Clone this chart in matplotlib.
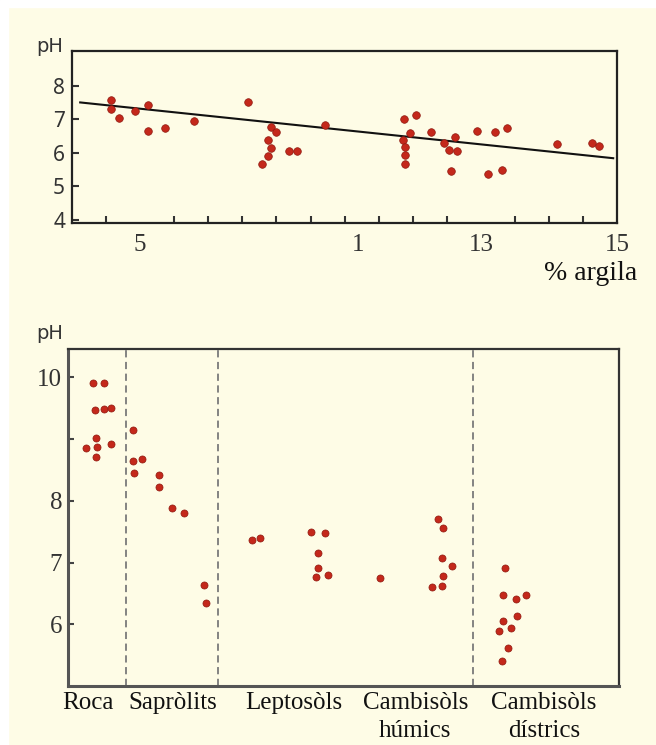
import matplotlib
matplotlib.use("Agg")
import matplotlib.pyplot as plt
from matplotlib.patches import Rectangle

# ---- top panel: pH vs % argila (x in tick units) ----
top_x = [0.15, 0.13, 0.37, 0.84, 1.24, 1.24, 1.74, 2.58,
         4.15, 4.84, 5.00, 4.76, 4.84, 4.74, 4.58, 5.38, 5.61, 6.41,
         8.74, 9.09, 8.92, 8.70, 8.77, 8.76, 8.76, 9.53,
         9.92, 10.24, 10.05, 10.29, 10.11, 10.87, 11.40, 11.77, 11.20, 11.62,
         13.23, 14.25, 14.46]
top_ph = [7.58, 7.30, 7.04, 7.25, 7.43, 6.66, 6.73, 6.96,
          7.53, 6.78, 6.61, 6.38, 6.15, 5.90, 5.67, 6.07, 6.07, 6.83,
          7.01, 7.14, 6.59, 6.39, 6.18, 5.93, 5.67, 6.63,
          6.30, 6.48, 6.08, 6.05, 5.46, 6.65, 6.62, 6.75, 5.37, 5.49,
          6.28, 6.30, 6.21]
fit_x = [-0.76, 14.88]
fit_ph = [7.51, 5.84]
top_label_pos = [1, 7.4, 11, 15]
top_labels = ["5", "1", "13", "15"]
top_yticks = [4, 5, 6, 7, 8]

# ---- bottom panel: pH by soil type ----
categories = ["Roca", "Sapròlits", "Leptosòls", "Cambisòls\nhúmics", "Cambisòls\ndístrics"]
cat_pos = [0.37, 1.91, 4.10, 6.30, 8.63]
dividers = [1.05, 2.73, 7.34]
roca_x = [0.45, 0.66, 0.50, 0.65, 0.79, 0.51, 0.33, 0.54, 0.51, 0.79]
roca_ph = [9.91, 9.91, 9.47, 9.49, 9.50, 9.01, 8.86, 8.88, 8.71, 8.92]
sapro_x = [1.18, 1.18, 1.34, 1.20, 1.66, 1.66, 1.89, 2.10, 2.47, 2.51]
sapro_ph = [9.14, 8.65, 8.67, 8.45, 8.42, 8.23, 7.89, 7.81, 6.63, 6.35]
lepto_x = [3.34, 3.49, 4.41, 4.67, 4.53, 4.54, 4.50, 4.71]
lepto_ph = [7.37, 7.39, 7.50, 7.48, 7.16, 6.91, 6.77, 6.80]
humic_x = [5.66, 6.71, 6.81, 6.78, 6.97, 6.81, 6.60, 6.79]
humic_ph = [6.75, 7.71, 7.56, 7.08, 6.95, 6.78, 6.60, 6.62]
distr_x = [7.93, 7.90, 8.13, 8.30, 8.14, 7.89, 7.82, 8.03, 7.99, 7.87]
distr_ph = [6.91, 6.48, 6.41, 6.48, 6.13, 6.05, 5.89, 5.94, 5.61, 5.41]
bot_yticks = [6, 7, 8, 9, 10]
bot_ylabels = ["6", "7", "8", "", "10"]

BG = "#fefce6"
DOT = "#c4281b"
DOT_EDGE = "#8e1a10"
SERIF = ["Liberation Serif", "DejaVu Serif"]

fig = plt.figure(figsize=(6.56, 7.45), dpi=100, facecolor=BG)
# thin white margin on top/left like the scanned original
fig.patches.append(Rectangle((0, 1 - 7 / 745), 1, 7 / 745, transform=fig.transFigure,
                             color="white", zorder=-1))
fig.patches.append(Rectangle((0, 0), 8 / 656, 1, transform=fig.transFigure,
                             color="white", zorder=-1))

# top chart
ax1 = fig.add_axes([72 / 656, 1 - 223 / 745, (617.3 - 72) / 656, (223 - 51) / 745])
ax1.set_facecolor(BG)
ax1.plot(fit_x, fit_ph, color="#111111", lw=1.5, zorder=2)
ax1.scatter(top_x, top_ph, s=30, color=DOT, edgecolors=DOT_EDGE, linewidths=0.5, zorder=3)
ax1.set_xlim(-1, 15)
ax1.set_ylim(3.9, 9.05)
ax1.set_yticks(top_yticks)
ax1.set_yticklabels([str(v) for v in top_yticks], fontfamily="Noto Sans", fontsize=15, color="#333333")
ax1.set_xticks(top_label_pos)
ax1.set_xticklabels(top_labels, fontfamily=SERIF, fontsize=18, color="#333333")
ax1.set_xticks(range(15), minor=True)
ax1.tick_params(axis="x", which="major", length=0, pad=8)
ax1.tick_params(axis="x", which="minor", direction="in", length=5, width=1.5, color="#333333")
ax1.tick_params(axis="y", direction="in", length=5, width=1.5, color="#333333", pad=5)
for sp in ax1.spines.values():
    sp.set_linewidth(1.6)
    sp.set_color("#222222")
fig.text(50 / 656, 1 - 46 / 745, "pH", ha="center", va="center", fontsize=14,
         family="DejaVu Sans", color="#333333")
fig.text(637 / 656, 1 - 280 / 745, "% argila", ha="right", va="baseline", fontsize=20,
         family=SERIF, color="#111111")

# bottom chart
ax2 = fig.add_axes([67.7 / 656, 1 - 686 / 745, (619.3 - 67.7) / 656, (686 - 349) / 745])
ax2.set_facecolor(BG)
for xv in dividers:
    ax2.axvline(xv, color="#7a7a7a", lw=1.3, ls=(0, (4, 2.5)), zorder=1)
for xs, ys in [(roca_x, roca_ph), (sapro_x, sapro_ph), (lepto_x, lepto_ph),
               (humic_x, humic_ph), (distr_x, distr_ph)]:
    ax2.scatter(xs, ys, s=26, color=DOT, edgecolors=DOT_EDGE, linewidths=0.5, zorder=3)
ax2.set_xlim(0, 10)
ax2.set_ylim(5.0, 10.46)
ax2.set_yticks(bot_yticks)
ax2.set_yticklabels(bot_ylabels, fontfamily=SERIF, fontsize=18, color="#333333")
ax2.tick_params(axis="y", direction="in", length=4, width=1.5, color="#444444", pad=4)
ax2.set_xticks(cat_pos)
ax2.set_xticklabels(categories, fontfamily=SERIF, fontsize=18, color="#111111",
                    linespacing=1.35)
ax2.tick_params(axis="x", length=0, pad=4)
for sp in ax2.spines.values():
    sp.set_linewidth(1.6)
    sp.set_color("#333333")
ax2.spines["left"].set_linewidth(2.2)
ax2.spines["bottom"].set_linewidth(2.2)
ax2.spines["left"].set_color("#555555")
ax2.spines["bottom"].set_color("#555555")
fig.text(50 / 656, 1 - 334 / 745, "pH", ha="center", va="center", fontsize=14,
         family="DejaVu Sans", color="#333333")

fig.savefig("out.png", dpi=100, facecolor=BG)
